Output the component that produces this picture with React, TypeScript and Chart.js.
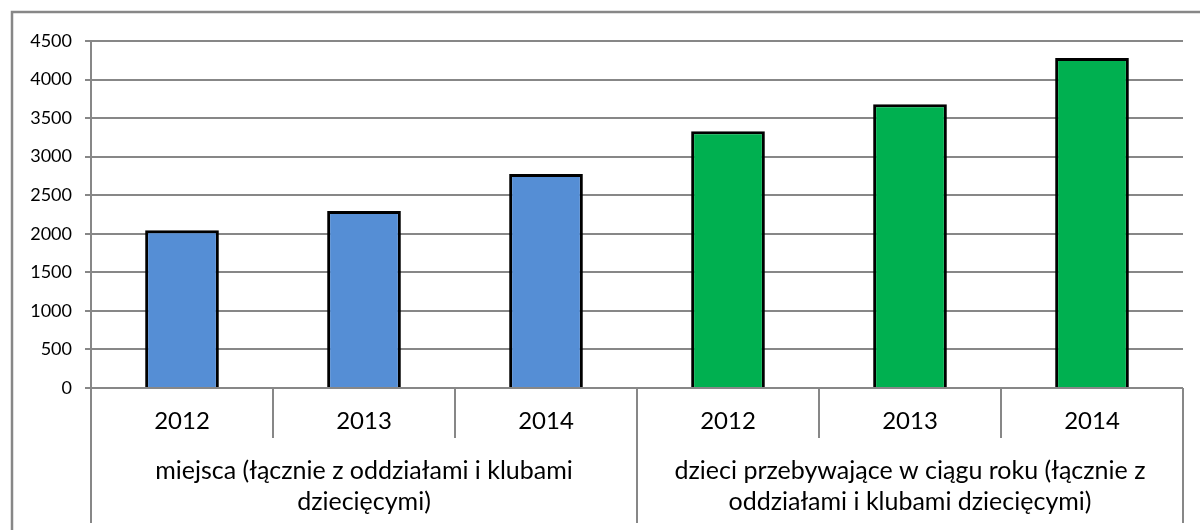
import React, { useEffect, useRef } from "react";
import { Chart, registerables } from "chart.js";

Chart.register(...registerables);

const years: string[] = ["2012", "2013", "2014", "2012", "2013", "2014"];
const groupOfBar: number[] = [0, 0, 0, 1, 1, 1];
const groupLabels: string[][] = [
  ["miejsca (łącznie z oddziałami i klubami", "dziecięcymi)"],
  ["dzieci przebywające w ciągu roku (łącznie z", "oddziałami i klubami dziecięcymi)"],
];
const values: number[] = [2045, 2295, 2775, 3330, 3680, 4280];
const groupColors: string[] = ["#558ED5", "#00B050"];
const yTicks = { min: 0, max: 4500, step: 500 };

const GRAY = "#878787";
const FONT = "Lato, 'Open Sans', sans-serif";

const axisPlugin = {
  id: "multiLevelAxis",
  beforeDraw(chart: any) {
    const ctx = chart.ctx;
    ctx.save();
    ctx.strokeStyle = GRAY;
    ctx.lineWidth = 2.5;
    ctx.strokeRect(12, 12, 1400, 800);
    ctx.restore();
  },
  afterDraw(chart: any) {
    const ctx = chart.ctx;
    const area = chart.chartArea;
    const n = years.length;
    const w = (area.right - area.left) / n;
    const base = area.bottom;
    ctx.save();
    ctx.strokeStyle = GRAY;
    ctx.lineWidth = 2;
    for (let i = 0; i <= n; i++) {
      const x = Math.round(area.left + i * w);
      const isGroupEdge = i === 0 || i === n || groupOfBar[i] !== groupOfBar[i - 1];
      ctx.beginPath();
      ctx.moveTo(x, base);
      ctx.lineTo(x, isGroupEdge ? base + 135 : base + 50);
      ctx.stroke();
    }
    ctx.fillStyle = "#000";
    ctx.textAlign = "center";
    ctx.textBaseline = "middle";
    ctx.font = `24px ${FONT}`;
    for (let i = 0; i < n; i++) {
      ctx.fillText(years[i], area.left + (i + 0.5) * w, base + 33);
    }
    ctx.font = `25px ${FONT}`;
    groupLabels.forEach((lines, g) => {
      const idx = groupOfBar.map((v, i) => (v === g ? i : -1)).filter((i) => i >= 0);
      const cx = area.left + ((idx[0] + idx[idx.length - 1] + 1) / 2) * w;
      lines.forEach((line, li) => {
        ctx.fillText(line, cx, base + 83 + li * 31);
      });
    });
    ctx.restore();
  },
};

export default function App() {
  const ref = useRef<HTMLCanvasElement | null>(null);
  useEffect(() => {
    if (!ref.current) return;
    const chart = new Chart(ref.current, {
      type: "bar",
      data: {
        labels: years.map((y, i) => `${y}-${groupOfBar[i]}`),
        datasets: [
          {
            data: values,
            backgroundColor: groupOfBar.map((g) => groupColors[g]),
            borderColor: "#000",
            borderWidth: 3,
            barPercentage: 0.405,
            categoryPercentage: 1,
          },
        ],
      },
      options: {
        responsive: false,
        animation: false,
        layout: { padding: { left: 0, right: 17, top: 41, bottom: 142 } },
        plugins: { legend: { display: false }, tooltip: { enabled: false } },
        scales: {
          x: { display: false },
          y: {
            min: yTicks.min,
            max: yTicks.max,
            afterFit: (s: any) => {
              s.width = 91;
            },
            ticks: {
              stepSize: yTicks.step,
              color: "#000",
              padding: 13,
              font: { family: FONT, size: 18 },
              callback: (v: any) => String(v),
            },
            grid: { color: GRAY, lineWidth: 2, tickLength: 6, drawTicks: true },
            border: { color: GRAY, width: 2 },
          },
        },
      },
      plugins: [axisPlugin],
    });
    return () => chart.destroy();
  }, []);
  return (
    <div style={{ position: "fixed", left: 0, top: 0, width: 1200, height: 530, background: "#fff" }}>
      <canvas ref={ref} width={1200} height={530} style={{ display: "block" }} />
    </div>
  );
}
